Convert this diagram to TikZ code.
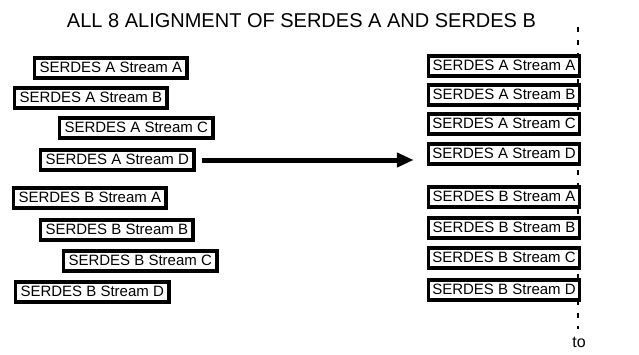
\documentclass[tikz,border=0pt]{standalone}
\usepackage{fontspec}
\setmainfont{Liberation Sans}
\usetikzlibrary{arrows.meta}
\tikzset{
  sbox/.style={draw=black, line width=3.5bp, fill=white, font=\fontsize{15bp}{17bp}\selectfont,
    text height=11.5bp, text depth=3.5bp, inner xsep=5bp, inner ysep=2.5bp, anchor=west},
  rbox/.style={sbox, inner xsep=3bp, minimum width=151bp, align=left},
  bigarrow/.style={line width=5bp, -{Triangle[length=17bp,width=14bp]}},
  tline/.style={line width=2bp, dash pattern=on 5bp off 8bp}
}
\begin{document}
\begin{tikzpicture}[x=1bp,y=-1bp]
\useasboundingbox (0,0) rectangle (639,354);
\node[font=\fontsize{20bp}{24bp}\selectfont] (title) at (301.5,21) {ALL 8 ALIGNMENT OF SERDES A AND SERDES B};
% time line (drawn first, boxes sit on it)
\coordinate (ttop) at (578,27);
\node[font=\fontsize{16bp}{18bp}\selectfont, inner sep=0pt] (to) at (579,342) {to};
\draw[tline] (ttop) -- ([yshift=8bp]to.north -| ttop);
% left column
\node[sbox] (laa) at (32.75,68) {SERDES A Stream A};
\node[sbox] (lab) at (12.75,98) {SERDES A Stream B};
\node[sbox] (lac) at (57.75,128) {SERDES A Stream C};
\node[sbox] (lad) at (38.75,160) {SERDES A Stream D};
\node[sbox] (lba) at (11.75,198) {SERDES B Stream A};
\node[sbox] (lbb) at (38.75,230) {SERDES B Stream B};
\node[sbox] (lbc) at (61.75,261) {SERDES B Stream C};
\node[sbox] (lbd) at (13.75,292) {SERDES B Stream D};
% right column
\node[rbox] (raa) at (426.75,66) {SERDES A Stream A};
\node[rbox] (rab) at (426.75,95) {SERDES A Stream B};
\node[rbox] (rac) at (426.75,124) {SERDES A Stream C};
\node[rbox] (rad) at (426.75,154) {SERDES A Stream D};
\node[rbox] (rba) at (426.75,197) {SERDES B Stream A};
\node[rbox] (rbb) at (426.75,228) {SERDES B Stream B};
\node[rbox] (rbc) at (426.75,258) {SERDES B Stream C};
\node[rbox] (rbd) at (426.75,290) {SERDES B Stream D};
% arrow
\draw[bigarrow] ([xshift=6bp]lad.east) -- ([xshift=-13bp]lad.east -| rad.west);
\end{tikzpicture}
\end{document}
